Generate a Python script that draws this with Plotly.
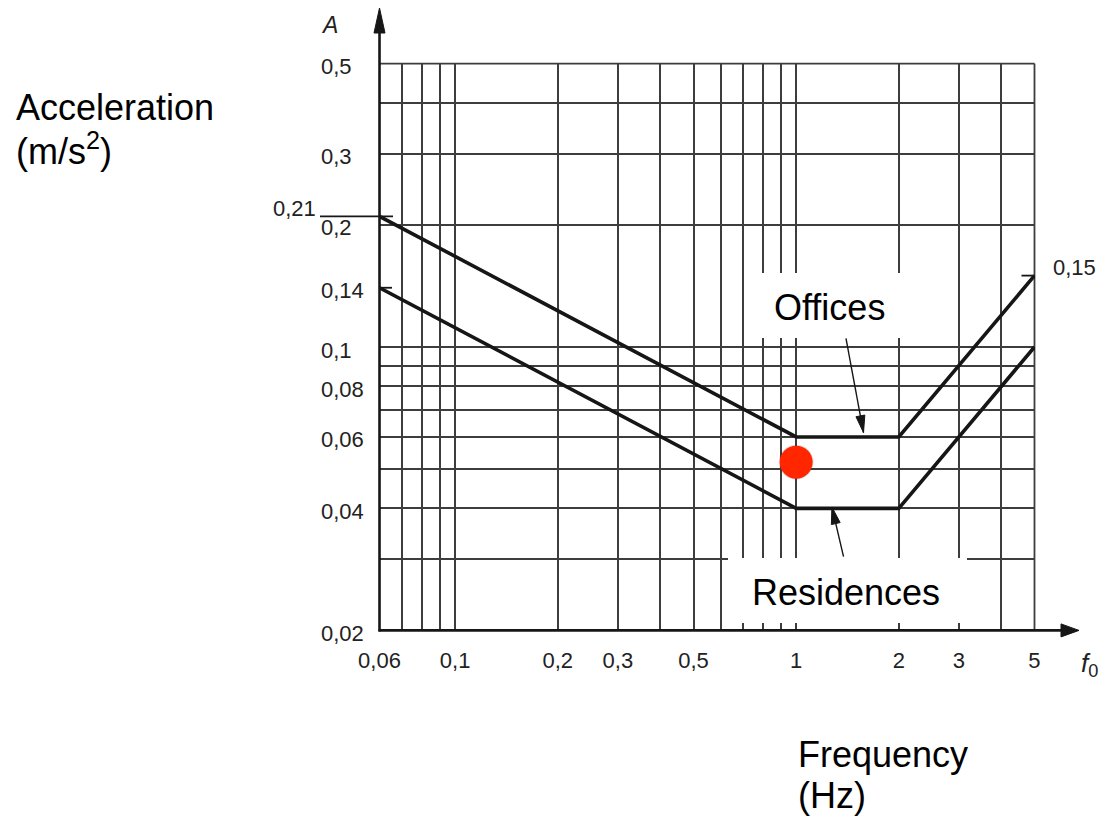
import math
import plotly.graph_objects as go

# ---------------- data ----------------
freq_knots = [0.06, 1, 2, 5]
offices_acc = [0.21, 0.06, 0.06, 0.15]
residences_acc = [0.14, 0.04, 0.04, 0.10]
point_freq = [1.0]
point_acc = [0.052]

x_label_vals = [0.06, 0.1, 0.2, 0.3, 0.5, 1, 2, 3, 5]
x_label_text = ["0,06", "0,1", "0,2", "0,3", "0,5", "1", "2", "3", "5"]
x_grid_vals = [0.06, 0.07, 0.08, 0.09, 0.1, 0.2, 0.3, 0.4, 0.5, 0.6, 0.7, 0.8, 0.9, 1, 2, 3, 4, 5]
y_grid_vals = [0.02, 0.03, 0.04, 0.05, 0.06, 0.07, 0.08, 0.09, 0.1, 0.2, 0.3, 0.4, 0.5]
y_label_vals = [0.5, 0.3, 0.2, 0.14, 0.1, 0.08, 0.06, 0.04, 0.02]
y_label_text = ["0,5", "0,3", "0,2", "0,14", "0,1", "0,08", "0,06", "0,04", "0,02"]

# ---------------- geometry ----------------
W, H = 1102, 820
L, R, T, B = 379, 67, 63, 189
PW, PH = W - L - R, H - T - B
EPS = 0.0015
XR = [math.log10(0.06) - EPS, math.log10(5) + EPS]
YR = [math.log10(0.02) - EPS, math.log10(0.5) + EPS]


def xpix(v):
    return L + (math.log10(v) - XR[0]) / (XR[1] - XR[0]) * PW


def ypix(v):
    return H - B - (math.log10(v) - YR[0]) / (YR[1] - YR[0]) * PH


def pxp(x):
    return (x - L) / PW


def pyp(y):
    return (H - B - y) / PH


FONT = "Liberation Sans, Arial, sans-serif"
INK = "#161616"
GRID = "#3d3d3d"
LBL = "#222222"

fig = go.Figure()

fig.add_trace(go.Scatter(x=freq_knots, y=offices_acc, mode="lines",
                         line=dict(color=INK, width=3.6), hoverinfo="skip"))
fig.add_trace(go.Scatter(x=freq_knots, y=residences_acc, mode="lines",
                         line=dict(color=INK, width=3.6), hoverinfo="skip"))
fig.add_trace(go.Scatter(x=point_freq, y=point_acc, mode="markers",
                         marker=dict(size=35, color="rgba(0,0,0,0.12)", line=dict(width=0)),
                         hoverinfo="skip"))
fig.add_trace(go.Scatter(x=point_freq, y=point_acc, mode="markers",
                         marker=dict(size=33, color="#FF2600", line=dict(width=0)),
                         hoverinfo="skip"))

shapes = []
annotations = []


def seg(x0, y0, x1, y1, width, color=INK, layer="above"):
    shapes.append(dict(type="line", xref="paper", yref="paper",
                       x0=pxp(x0), y0=pyp(y0), x1=pxp(x1), y1=pyp(y1),
                       line=dict(color=color, width=width), layer=layer))


def head(tx, ty, fx, fy, length, half, color=INK):
    dx, dy = tx - fx, ty - fy
    n = math.hypot(dx, dy)
    ux, uy = dx / n, dy / n
    bx, by = tx - ux * length, ty - uy * length
    px_, py_ = -uy, ux
    p1 = (bx + px_ * half, by + py_ * half)
    p2 = (bx - px_ * half, by - py_ * half)
    path = "M{},{} L{},{} L{},{} Z".format(pxp(tx), pyp(ty), pxp(p1[0]), pyp(p1[1]),
                                           pxp(p2[0]), pyp(p2[1]))
    shapes.append(dict(type="path", xref="paper", yref="paper", path=path,
                       fillcolor=color, line=dict(color=color, width=1), layer="above"))


def box(x0, y0, x1, y1):
    shapes.append(dict(type="rect", xref="paper", yref="paper",
                       x0=pxp(x0), y0=pyp(y1), x1=pxp(x1), y1=pyp(y0),
                       fillcolor="white", line=dict(width=0), layer="above"))


x_left, x_right = xpix(0.06), xpix(5)
y_bottom, y_top = ypix(0.02), ypix(0.5)

# edge grid lines (plotly drops grid lines that sit on the range edges)
seg(x_left, y_top, x_right, y_top, 1.8, GRID, "below")
seg(x_right, y_top, x_right, y_bottom, 1.8, GRID, "below")

# label boxes
box(752, 273, 905, 338)
box(728, 558, 967, 623)

# axes with arrows
seg(x_left, y_bottom + 1, x_left, 30, 2.6)
head(x_left, 8, x_left, 40, 25, 5.5)
seg(x_left - 1, y_bottom, 1063, y_bottom, 2.6)
head(1079, y_bottom, 1050, y_bottom, 18, 6.5)

# small reference ticks
seg(320, ypix(0.21), 393, ypix(0.21), 1.8)
seg(x_left, ypix(0.14), 392, ypix(0.14), 1.8)
seg(x_right - 13, ypix(0.15), x_right, ypix(0.15), 1.8)

# pointer arrows
off_tail, off_tip = (xpix(1.40), ypix(0.105)), (xpix(1.576), ypix(0.0615))
res_tail, res_tip = (xpix(1.377), ypix(0.0304)), (xpix(1.273), ypix(0.0403))
seg(off_tail[0], off_tail[1], off_tip[0], off_tip[1], 1.4)
head(off_tip[0], off_tip[1], off_tail[0], off_tail[1], 17, 4.5)
seg(res_tail[0], res_tail[1], res_tip[0], res_tip[1], 1.4)
head(res_tip[0], res_tip[1], res_tail[0], res_tail[1], 17, 4.5)

tick_font = dict(family=FONT, size=22, color=LBL)

# y tick labels (left aligned)
for v, t in zip(y_label_vals, y_label_text):
    annotations.append(dict(text=t, x=pxp(319), xref="paper", xanchor="left",
                            y=math.log10(v), yref="y", yanchor="middle", yshift=-3,
                            showarrow=False, font=tick_font))
annotations.append(dict(text="0,21", x=pxp(318), xref="paper", xanchor="right",
                        y=math.log10(0.21), yref="y", yanchor="middle", yshift=8,
                        showarrow=False, font=tick_font))
annotations.append(dict(text="0,15", x=pxp(1051), xref="paper", xanchor="left",
                        y=math.log10(0.15), yref="y", yanchor="middle", yshift=8,
                        showarrow=False, font=tick_font))
annotations.append(dict(text="<i>A</i>", x=pxp(329), xref="paper", xanchor="center",
                        y=pyp(25), yref="paper", yanchor="middle",
                        showarrow=False, font=dict(family=FONT, size=23, color=LBL)))
annotations.append(dict(text="<i>f</i><sub>0</sub>", x=pxp(1079), xref="paper", xanchor="left",
                        y=pyp(664), yref="paper", yanchor="middle",
                        showarrow=False, font=dict(family=FONT, size=26, color=LBL)))

# big labels
big = dict(family=FONT, size=36, color="black")
annotations.append(dict(text="Offices", x=pxp(829), y=pyp(307), xref="paper", yref="paper",
                        xanchor="center", yanchor="middle", showarrow=False, font=big))
annotations.append(dict(text="Residences", x=pxp(846), y=pyp(592), xref="paper", yref="paper",
                        xanchor="center", yanchor="middle", showarrow=False, font=big))
annotations.append(dict(text="Acceleration", x=pxp(14), y=pyp(107), xref="paper", yref="paper",
                        xanchor="left", yanchor="middle", showarrow=False, font=big))
annotations.append(dict(text="(m/s<sup>2</sup>)", x=pxp(14), y=pyp(149), xref="paper", yref="paper",
                        xanchor="left", yanchor="middle", showarrow=False, font=big))
annotations.append(dict(text="Frequency", x=pxp(796), y=pyp(754), xref="paper", yref="paper",
                        xanchor="left", yanchor="middle", showarrow=False, font=big))
annotations.append(dict(text="(Hz)", x=pxp(796), y=pyp(795), xref="paper", yref="paper",
                        xanchor="left", yanchor="middle", showarrow=False, font=big))

fig.update_layout(
    width=W, height=H,
    margin=dict(l=L, r=R, t=T, b=B, pad=0),
    paper_bgcolor="white", plot_bgcolor="white",
    showlegend=False,
    shapes=shapes, annotations=annotations,
    xaxis=dict(type="log", range=XR, tickmode="array", tickvals=x_label_vals, ticktext=x_label_text,
               showgrid=True, gridcolor=GRID, gridwidth=1.8, showline=False, zeroline=False,
               ticks="", ticklabelstandoff=14, automargin=False,
               minor=dict(tickmode="array", tickvals=x_grid_vals, showgrid=True,
                          gridcolor=GRID, gridwidth=1.8, ticks=""),
               tickfont=tick_font),
    yaxis=dict(type="log", range=YR, tickmode="array", tickvals=y_grid_vals, showticklabels=False,
               showgrid=True, gridcolor=GRID, gridwidth=1.8, showline=False, zeroline=False,
               ticks="", automargin=False),
)

fig.write_html("out.html", config={"displayModeBar": False})
